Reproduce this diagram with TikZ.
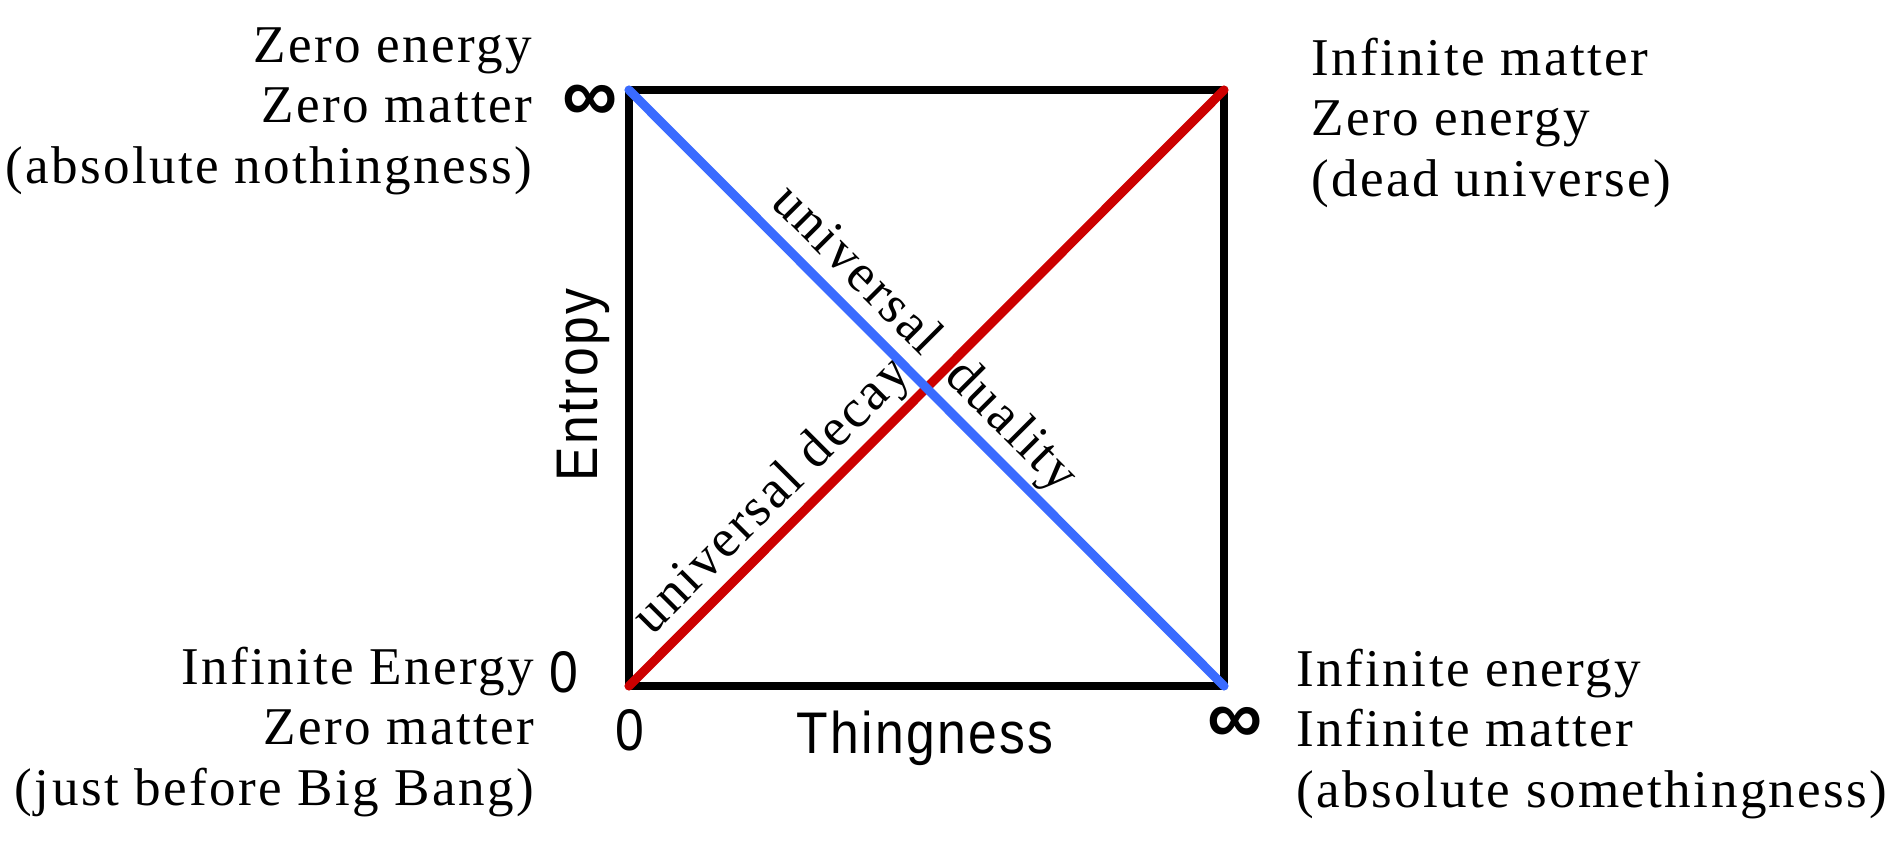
\documentclass[tikz,border=0pt]{standalone}
\usepackage{fontspec}
\setmainfont{Liberation Serif}[LetterSpace=4.5]
\newfontfamily\axisfont{Liberation Sans}[FakeStretch=0.88,LetterSpace=4]
\newfontfamily\limitfont{Liberation Sans Bold}
\usetikzlibrary{positioning}
\definecolor{decayred}{HTML}{CC0000}
\definecolor{dualityblue}{HTML}{3A6BFF}
\tikzset{
  state/.style={font=\fontsize{15.1}{17.07}\selectfont,inner sep=0pt},
  stateleft/.style={state,align=right,anchor=base east},
  stateright/.style={state,align=left,anchor=base west},
  axisname/.style={font=\axisfont\fontsize{16.7}{20}\selectfont,inner sep=0pt,anchor=base},
  limit/.style={font=\limitfont\fontsize{22}{24}\selectfont,inner sep=0pt},
  frame/.style={draw=black,line width=2.3pt,line join=round},
  decay/.style={draw=decayred,line width=2.6pt,line cap=round},
  duality/.style={draw=dualityblue,line width=2.6pt,line cap=round},
  along/.style={font=\fontsize{15.3}{17}\selectfont,sloped,above,text depth=0pt,inner sep=4pt}
}

\begin{document}
\begin{tikzpicture}[x=0.01cm,y=-0.01cm]
\useasboundingbox (0,0) rectangle (1896,842);
\coordinate (bl) at (629,686);
\coordinate (br) at (1224,686);
\coordinate (tl) at (629,90);
\coordinate (tr) at (1224,90);
\draw[frame] (bl) rectangle (tr);
\draw[decay] (bl) -- node[along,pos=0.28] (decaylabel) {universal decay} (tr);
\draw[duality] (tl) -- node[along,pos=0.457] (dualitylabel) {universal\hspace{0.25em} duality} (br);
\node[axisname,rotate=90] (entropy) at (597,385) {Entropy};
\node[axisname] (thingness) at (925,753) {Thingness};
\node[axisname] (entropyzero) at (564,692) {0};
\node[axisname] (thingzero) at (630,750) {0};
\node[limit] (entropyinf) at (590,103) {∞};
\node[limit] (thinginf) at (1235,725) {∞};
\node[stateleft] (nothing) at (533,183) {Zero energy\\Zero matter\\(absolute nothingness)};
\node[stateleft] (bigbang) at (535,805) {Infinite Energy\\Zero matter\\(just before Big Bang)};
\node[stateright] (dead) at (1311,196) {Infinite matter\\Zero energy\\(dead universe)};
\node[stateright] (something) at (1296,807) {Infinite energy\\Infinite matter\\(absolute somethingness)};
\end{tikzpicture}
\end{document}
